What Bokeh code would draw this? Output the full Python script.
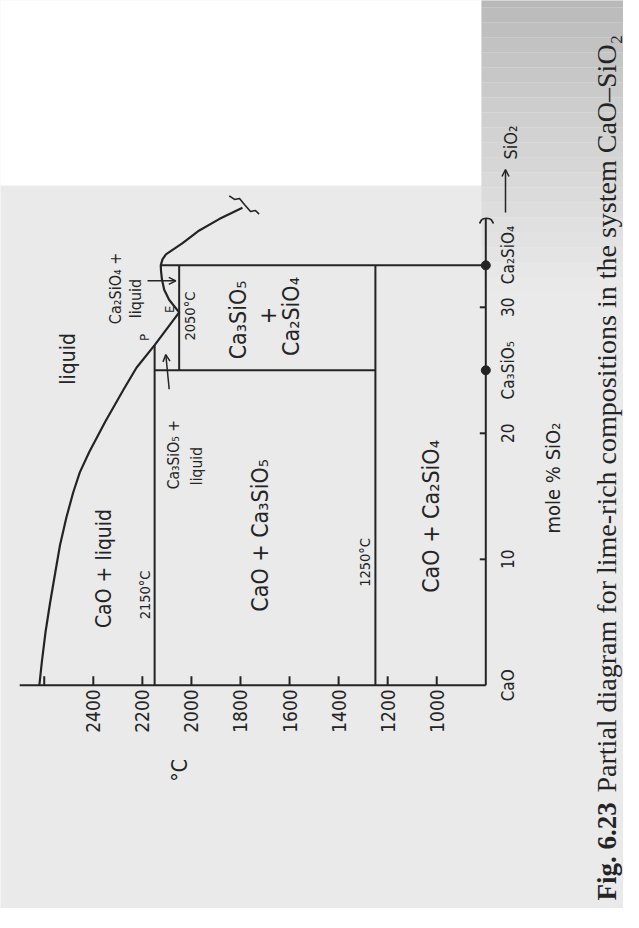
from bokeh.plotting import figure
from bokeh.models import Range1d, Label, Arrow, OpenHead, ColumnDataSource
from bokeh.core.properties import value
from bokeh.embed import file_html
from bokeh.resources import INLINE

# ---------------- data (temperature °C  vs  mole % SiO2) ----------------
T_ticks = [2600, 2400, 2200, 2000, 1800, 1600, 1400, 1200, 1000]
T_tick_labels = ["", "2400", "2200", "2000", "1800", "1600", "1400", "1200", "1000"]
c_ticks = [10, 20, 30]
c_label_pos = [0, 10, 20, 25, 30]
c_tick_labels = ["CaO", "10", "20", "Ca₃SiO₅", "30"]
T_axis = [2700, 800]          # extent of the temperature axis
c_axis = [0, 37.0]            # extent of the composition axis

# liquidus: CaO side -> P -> E -> Ca2SiO4 maximum -> towards SiO2
liq_c = [0, 1.81, 4.19, 6.57, 8.95, 11.1, 13.3, 15.3, 16.9, 18.5, 20.9, 23.5,
         25.2, 27.0, 29.6, 30.6, 31.4, 32.2, 32.9, 33.33, 33.8, 34.2, 35.1,
         36.1, 37.0, 37.9]
liq_T = [2620, 2610, 2595, 2576, 2555, 2536, 2510, 2482, 2455, 2417, 2352,
         2276, 2224, 2150, 2050, 2091, 2111, 2120, 2124, 2125, 2118, 2104,
         2036, 1968, 1887, 1792]

# break mark at the end of the liquidus
brk_c = [38.85, 38.56, 38.63, 38.16, 37.6, 37.68, 37.39]
brk_T = [1846, 1824, 1804, 1784, 1759, 1739, 1724]

# isotherms (constant T) and compound lines (constant composition)
seg_T0 = [2150, 2050, 1250, 2150, 2125]
seg_T1 = [2150, 2050, 1250, 1250, 800]
seg_c0 = [0, 25, 0, 25, 33.33]
seg_c1 = [27.0, 33.33, 33.33, 25, 33.33]

# compounds marked on the composition axis
cmp_c = [25, 33.33]
cmp_T = [800, 800]

# ---------------- style / geometry ----------------
INK = "#242424"
PAGE = "#eaeaea"
FONT = "DejaVu Sans Condensed"
SERIF = "Liberation Serif"

W, H = 623, 908
SX = 0.24531          # px per °C
SY = 12.6             # px per mol %
T_left = 2400 + (100.8 - 8) / SX
T_right = T_left - W / SX
c_top = (692.8 - 8) / SY
c_bot = c_top - H / SY


def T_at(px):   # page x pixel -> temperature (for placing decorations/labels)
    return 2400 - (px - 100.8) / SX


def c_at(py):   # page y pixel -> mol % (for placing decorations/labels)
    return (692.8 - py) / SY


p = figure(width=W, height=H, output_backend="svg", toolbar_location=None,
           x_range=Range1d(T_left, T_right), y_range=Range1d(c_bot, c_top),
           x_axis_type=None, y_axis_type=None, min_border=0)
p.background_fill_color = PAGE
p.border_fill_color = PAGE
p.outline_line_color = None

# white patch (top-left of the scan) and darker shading along the top right
p.quad(left=[T_left + 50], right=[T_at(489)], bottom=[c_at(193)], top=[c_top + 2],
       fill_color="white", line_color=None)
n_sh = 20
shades = []
for i in range(n_sh):
    g = int(round(0xb9 + (0xe9 - 0xb9) * (i / (n_sh - 1)) ** 0.9))
    shades.append("#%02x%02x%02x" % (g, g, g))
sh_top = [c_at(15 * i) for i in range(n_sh)]
sh_bot = [c_at(15 * (i + 1)) for i in range(n_sh)]
p.quad(left=[T_at(489)] * n_sh, right=[T_right - 50] * n_sh,
       top=sh_top, bottom=sh_bot, fill_color=shades, line_color=None)

# ---------------- axes (drawn through the data scales) ----------------
p.line(T_axis, [0, 0], line_color=INK, line_width=2)
p.line([800, 800], c_axis, line_color=INK, line_width=2)
p.segment(x0=T_ticks, y0=[0] * len(T_ticks), x1=T_ticks,
          y1=[9 / SY] * len(T_ticks), line_color=INK, line_width=2)
p.segment(x0=[800] * len(c_ticks), y0=c_ticks, x1=[800 + 6 / SX] * len(c_ticks),
          y1=c_ticks, line_color=INK, line_width=2)

tsrc = ColumnDataSource(dict(x=T_ticks, y=[-4 / SY] * len(T_ticks), t=T_tick_labels))
p.text(x="x", y="y", text="t", source=tsrc, angle=1.5707963, text_align="right",
       text_baseline="middle", text_font=value(FONT), text_font_size="19px",
       text_color=INK)
csrc = ColumnDataSource(dict(x=[800 - 22 / SX] * len(c_label_pos), y=c_label_pos,
                             t=c_tick_labels))
p.text(x="x", y="y", text="t", source=csrc, angle=1.5707963, text_align="center",
       text_baseline="middle", text_font=value(FONT), text_font_size="17px",
       text_color=INK)

# ---------------- diagram lines ----------------
p.segment(x0=seg_T0, y0=seg_c0, x1=seg_T1, y1=seg_c1, line_color=INK, line_width=2)
p.line(liq_T, liq_c, line_color=INK, line_width=2.2, line_join="round")
p.line(brk_T, brk_c, line_color=INK, line_width=1.6, line_join="round")
p.scatter(cmp_T, cmp_c, size=9, color=INK)
# break mark at the top of the composition axis
p.line([T_at(487), T_at(489), T_at(491), T_at(494), T_at(497), T_at(499), T_at(501)],
       [c_at(231), c_at(227.5), c_at(226.2), c_at(225.8), c_at(226.2), c_at(227.5), c_at(231)],
       line_color=INK, line_width=1.6)

# arrows
for xs, ys, xe, ye in [(2090.6, 23.5, 2104.5, 26.25), (2179, 32.1, 2063.7, 32.1),
                       (T_at(513), c_at(220), T_at(513), c_at(177))]:
    p.add_layout(Arrow(x_start=xs, y_start=ys, x_end=xe, y_end=ye,
                       line_color=INK, line_width=1.5,
                       end=OpenHead(size=7, line_color=INK, line_width=1.5)))

# ---------------- labels ----------------
def lab(x, y, text, size, font=FONT, align="center", baseline="middle", style="normal"):
    p.add_layout(Label(x=x, y=y, text=text, angle=90, angle_units="deg",
                       text_align=align, text_baseline=baseline,
                       text_font=font, text_font_size=f"{size}px",
                       text_font_style=style, text_color=INK))

lab(2505, 25.9, "liquid", 21)
lab(2356, 9.27, "CaO + liquid", 21)
lab(2191, 7.17, "2150°C", 14.5)
lab(2069, 18.3, "Ca₃SiO₅ +", 15.5)
lab(1979, 17.4, "liquid", 15.5)
lab(1722, 11.9, "CaO + Ca₃SiO₅", 23)
lab(2091, 29.85, "E", 13)
lab(2192, 27.6, "P", 13)
lab(2309, 31.5, "Ca₂SiO₄ +", 16)
lab(2226, 30.7, "liquid", 16)
lab(2004, 29.3, "2050°C", 14.5)
lab(1812, 29.0, "Ca₃SiO₅", 23)
lab(1690, 29.35, "+", 23)
lab(1594, 29.27, "Ca₂SiO₄", 23)
lab(1292, 9.75, "1250°C", 14.5)
lab(1025, 13.4, "CaO + Ca₂SiO₄", 23)
lab(2047, -6.76, "°C", 21)
lab(800 - 22 / SX, 34.15, "Ca₂SiO₄", 17)
lab(800 - 25 / SX, c_at(150), "SiO₂", 18)
lab(T_at(560), c_at(485.5), "mole % SiO₂", 20)

# caption (reads bottom to top along the right edge)
lab(T_at(614), c_at(908), "Fig. 6.23", 27,
    font=SERIF, align="left", baseline="middle", style="bold")
lab(T_at(614), c_at(800),
    "Partial diagram for lime-rich compositions in the system CaO–SiO₂", 28,
    font=SERIF, align="left", baseline="middle")

open("out.html", "w").write(file_html(p, INLINE))
